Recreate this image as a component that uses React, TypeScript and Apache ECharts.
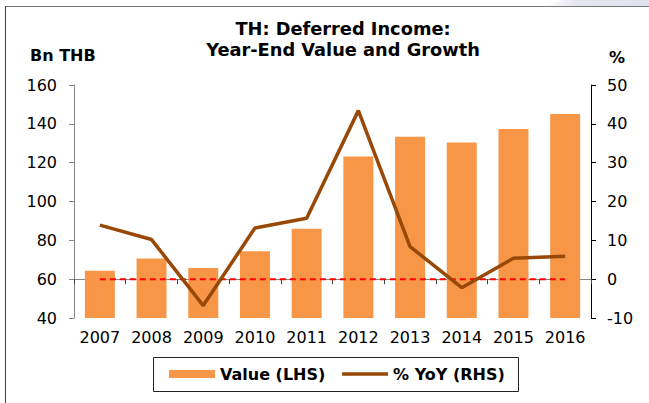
import { useEffect, useRef } from 'react';
import * as echarts from 'echarts';

const years = ['2007', '2008', '2009', '2010', '2011', '2012', '2013', '2014', '2015', '2016'];
const values = [64.3, 70.6, 65.8, 74.4, 86.0, 123.2, 133.3, 130.4, 137.3, 145.1];
const yoy = [13.9, 10.2, -6.8, 13.2, 15.7, 43.4, 8.4, -2.2, 5.4, 5.9];
const zeroRef = [0, 0, 0, 0, 0, 0, 0, 0, 0, 0];

const FONT = 'DejaVu Sans';

export default function App() {
  const ref = useRef<HTMLDivElement>(null);
  useEffect(() => {
    document.body.style.margin = '0';
    const chart = echarts.init(ref.current!, null, { renderer: 'svg' });
    chart.setOption({
      animation: false,
      backgroundColor: '#fff',
      title: {
        text: 'TH: Deferred Income:\nYear-End Value and Growth',
        left: 343,
        top: 18,
        padding: 0,
        textAlign: 'center',
        textStyle: { fontFamily: FONT, fontWeight: 'bold', fontSize: 17.8, lineHeight: 21, color: '#000' },
      },
      grid: { left: 74, right: 58, top: 85, bottom: 85 },
      legend: {
        left: 169,
        top: 366,
        padding: 0,
        itemGap: 15,
        itemWidth: 46,
        itemHeight: 8,
        textStyle: { fontFamily: FONT, fontWeight: 'bold', fontSize: 16, color: '#000' },
        data: [
          { name: 'Value (LHS)', icon: 'rect' },
          { name: '% YoY (RHS)', itemStyle: { opacity: 0 }, lineStyle: { width: 3.5, color: '#984807' } },
        ],
      },
      xAxis: {
        type: 'category',
        data: years,
        axisLine: { lineStyle: { color: '#868686', width: 1 } },
        axisTick: { show: true, length: 5, lineStyle: { color: '#404040' } },
        axisLabel: { interval: 0, margin: 11, fontFamily: FONT, fontSize: 16, color: '#000' },
      },
      yAxis: [
        {
          type: 'value',
          min: 40,
          max: 160,
          interval: 20,
          splitLine: { show: false },
          axisLine: { show: true, lineStyle: { color: '#868686' } },
          axisTick: { show: true, length: 5, lineStyle: { color: '#868686' } },
          axisLabel: { margin: 17, fontFamily: FONT, fontSize: 16, color: '#000' },
        },
        {
          type: 'value',
          min: -10,
          max: 50,
          interval: 10,
          position: 'right',
          splitLine: { show: false },
          axisLine: { show: true, lineStyle: { color: '#000' } },
          axisTick: { show: true, length: 5, lineStyle: { color: '#000' } },
          axisLabel: { margin: 16, fontFamily: FONT, fontSize: 16, color: '#000' },
        },
      ],
      series: [
        {
          name: 'Value (LHS)',
          type: 'bar',
          data: values,
          barWidth: '58%',
          itemStyle: { color: '#F79646' },
          z: 2,
        },
        {
          name: 'zero',
          type: 'line',
          yAxisIndex: 1,
          data: zeroRef,
          symbol: 'none',
          lineStyle: { color: '#FF0000', width: 2, type: [6, 4] },
          z: 3,
          silent: true,
        },
        {
          name: '% YoY (RHS)',
          type: 'line',
          yAxisIndex: 1,
          data: yoy,
          symbol: 'none',
          lineStyle: { color: '#984807', width: 3.5 },
          itemStyle: { color: '#984807' },
          z: 4,
        },
      ],
      graphic: [
        {
          type: 'polygon',
          shape: { points: [[545, 6], [562, 0], [649, 0], [649, 6]] },
          style: {
            fill: new echarts.graphic.LinearGradient(0, 0, 1, 0, [
              { offset: 0, color: '#ffffff' },
              { offset: 0.3, color: '#E6E6F2' },
              { offset: 1, color: '#E2E2F0' },
            ]),
          },
          silent: true,
        },
        { type: 'line', shape: { x1: 5, y1: 6.5, x2: 649, y2: 6.5 }, style: { stroke: '#777', lineWidth: 1 }, silent: true },
        { type: 'line', shape: { x1: 5.5, y1: 6, x2: 5.5, y2: 403 }, style: { stroke: '#444', lineWidth: 1 }, silent: true },
        {
          type: 'text',
          x: 30,
          y: 55,
          style: { text: 'Bn THB', align: 'left', verticalAlign: 'middle', font: `bold 16px "${FONT}"`, fill: '#000' },
          silent: true,
        },
        {
          type: 'text',
          x: 617,
          y: 57,
          style: { text: '%', align: 'center', verticalAlign: 'middle', font: `bold 16px "${FONT}"`, fill: '#000' },
          silent: true,
        },
        {
          type: 'rect',
          shape: { x: 153.5, y: 357.5, width: 365, height: 34 },
          style: { fill: 'none', stroke: '#222', lineWidth: 1 },
          silent: true,
        },
      ],
    });
    return () => chart.dispose();
  }, []);
  return <div ref={ref} style={{ width: 649, height: 403 }} />;
}
